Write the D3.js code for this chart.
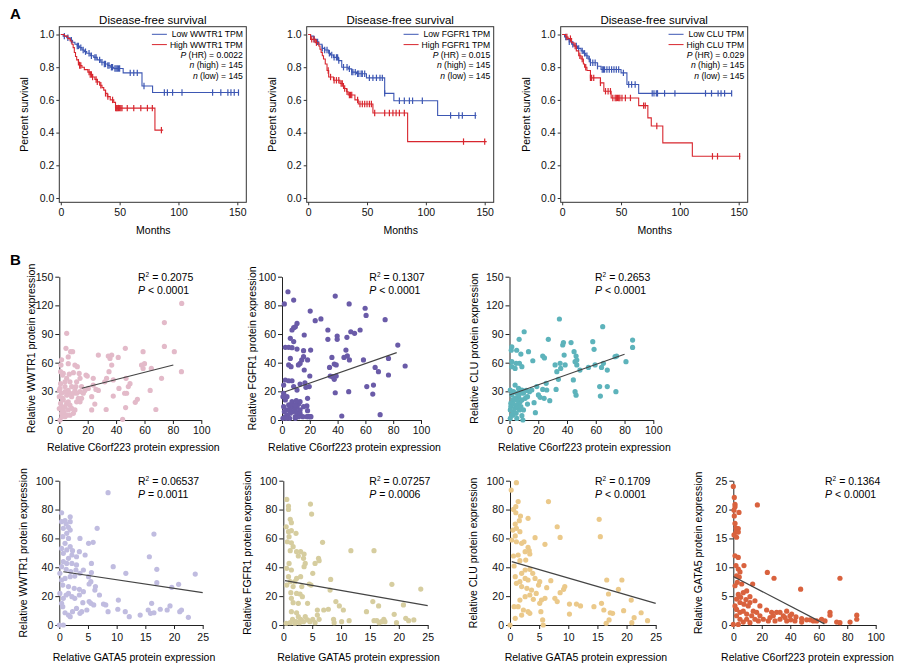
<!DOCTYPE html>
<html>
<head>
<meta charset="utf-8">
<script src="https://cdn.jsdelivr.net/npm/d3@7"></script>
<style>
  body { margin: 0; background: #fff; }
  svg { font-family: "Liberation Sans", Arial, sans-serif; }
</style>
</head>
<body>
<svg id="fig" width="900" height="671"></svg>
<script>
// ---- survival curves: [month, survival] step points (last point = end of follow-up)
const wwtr1Low = [[0,1],[2,0.99],[5,0.98],[8,0.965],[10,0.953],[12,0.94],[14,0.93],[16,0.92],[18,0.905],[20,0.895],[22,0.885],[25,0.87],[28,0.86],[31,0.845],[34,0.83],[37,0.82],[40,0.81],[42,0.8],[45,0.792],[53,0.765],[69,0.685],[78,0.645],[151.5,0.645]];
const wwtr1High = [[0,1],[3,0.99],[6,0.975],[8,0.96],[9.5,0.94],[10.5,0.92],[11.5,0.89],[12.5,0.865],[13.5,0.845],[15,0.83],[16,0.81],[18,0.8],[20,0.785],[23,0.77],[25,0.755],[27,0.74],[29,0.725],[31,0.71],[33,0.69],[35,0.675],[36.5,0.66],[38,0.64],[39.5,0.62],[42,0.6],[45,0.585],[46.5,0.55],[80,0.415],[87,0.415]];
const wwtr1LowCens = [3,6,9,14,15,17,19,21,24,26,29,30,33,35,37,38,40,41,43,44,46,47,48,49,50,59,62,65,70.7,88,90.6,95,103,129,136,142,144.6,147.4,151];
const wwtr1HighCens = [15,16,17,24,25,26,27,30,31,34,38,40,44,46.6,47.5,48,49,50,51,52,56.5,62,68,73.6,77.8,85.5];

const fgfr1Low = [[0,1],[2,0.99],[4.8,0.97],[7,0.955],[9,0.94],[11.8,0.915],[14,0.905],[17.4,0.885],[19,0.875],[21.5,0.86],[25.7,0.84],[28.5,0.8],[34,0.79],[37,0.77],[41,0.76],[49.5,0.735],[65,0.64],[72.8,0.595],[110,0.505],[143,0.505]];
const fgfr1High = [[0,1],[2,0.97],[6,0.95],[9,0.93],[10,0.91],[11,0.89],[12,0.87],[13,0.85],[14.5,0.82],[16,0.78],[17.4,0.74],[21.5,0.72],[27,0.7],[30,0.67],[32.7,0.65],[34,0.63],[39.7,0.6],[42.5,0.575],[55,0.52],[84.5,0.345],[151.7,0.345]];
const fgfr1LowCens = [5,8,12,14,16,18,20,22,24,25,26,30,33,35,37,38,40,42,43,45,46,48,52,55,58,61,63,65,77.5,81.7,86,88.7,97,121,128,131,142];
const fgfr1HighCens = [3,5,7,17,19,22,24,26,28,29,31,33,35,36,37,42,44,46,48,50,52,53.7,56.5,65,69,72,74.7,77.5,81.7,132,150];

const cluLow = [[0,1],[2,0.985],[4,0.97],[6,0.955],[8,0.94],[10,0.93],[13,0.915],[16,0.9],[18,0.885],[20,0.87],[22,0.85],[24,0.827],[30,0.806],[33,0.786],[50,0.765],[55,0.694],[65,0.64],[144,0.64]];
const cluHigh = [[0,1],[3,0.985],[5,0.975],[8,0.95],[10,0.93],[12,0.9],[14,0.87],[16,0.85],[18,0.82],[19,0.8],[21,0.78],[24,0.735],[32.5,0.704],[35.4,0.653],[41.6,0.612],[65,0.565],[72.8,0.49],[75.7,0.44],[85.5,0.337],[110.6,0.255],[151.4,0.255]];
const cluLowCens = [3,6,9,12,14,17,19,21,23,24,26,28,30,34,35,36,38,40,42,44,46,48,52,56.5,59,62,76.5,78,80,81,87,95.8,121.8,126.9,132.5,135,138,144];
const cluHighCens = [4,7,11,15,17,20,24,25,26.8,32.5,36.8,39,41,43,45,46,47,48,49,50.8,53.7,58,69.2,70.6,80.4,127.7,132,150.8];

const kmGenes = ["WWTR1", "FGFR1", "CLU"];
const kmPvals = ["0.0022", "0.015", "0.029"];
const kmTicksY = [0, 0.2, 0.4, 0.6, 0.8, 1.0];
const kmTicksX = [0, 50, 100, 150];

// ---- scatter points [x, y]
const c6Wwtr1 = [[86.2,122],[74,102],[74,77],[81,71.5],[86,50.6],[72,43.6],[68,11],[64,31],[64.8,54],[60,59],[59,71.5],[57.9,57.5],[59,54],[55,21.6],[53.5,18.5],[49.8,38],[48.6,35],[47.4,28],[46,28],[46.5,75],[47,43.6],[46.7,13],[41.5,65.5],[42,33],[44.6,0.7],[38,25],[38,42],[36.9,57.5],[36.9,68],[35.7,64.5],[34.5,67],[35,50.6],[33.3,43.6],[32,40],[33,11],[27.5,68],[27.5,31],[25.8,32],[23.9,36.6],[23.9,43.6],[25,16.7],[22.8,10.5],[22.8,24.4],[20.4,33],[18.8,47],[19.7,46],[15.7,35],[15.7,22.7],[14,48.8],[12.7,55.8],[12.2,40],[11.7,35],[9.9,49.5],[9.4,71.5],[8,71.5],[6.3,66],[6.3,59],[4.7,75],[5.2,90.7],[1.6,63],[1.2,57.5],[2.8,48.8],[0.5,0],[1.6,7],[2.8,10.5],[4,14],[5.2,17.4],[6.3,19],[7.5,15.7],[8.7,12.2],[9.9,7],[5.2,5],[2.8,21],[1.6,28],[0.5,33],[0.9,38],[4,35],[6.3,31],[7.5,28],[8.7,24.4],[9.9,28],[11,31],[12.2,28],[14.6,29.6],[13.4,22.7],[5.2,26],[4,29.6],[2.3,22.7],[0.9,17.4],[1.6,14],[3.3,7.7],[6.3,10.5],[7.5,5],[4,3.5],[1.9,3.5],[0,12],[0,24.4],[0,31],[5.2,43.6],[4,40],[7.5,40],[8.7,35],[2.3,47],[0.9,50.6],[12.2,19],[11,10.5],[14.6,19],[16.9,28],[18,31],[7,48],[11,57.5],[14.6,43.6]];
const c6Fgfr1 = [[4.3,89.5],[8.4,83.7],[1.7,81],[38.3,86.5],[48.3,81],[59.8,78],[60.5,73],[74.2,70],[20.3,76],[23.9,69.3],[28,70.5],[10.8,67.4],[8.4,64.4],[7.2,62.8],[9.6,65],[6,57],[8.4,54.7],[4.8,50.7],[2.4,50.7],[7.2,50.5],[10.8,49.5],[16,59.3],[15.5,48.4],[20.6,48.8],[33,62.8],[33,56.3],[39.7,58.6],[39.7,56.3],[46.7,57.7],[49.5,61.6],[52.2,60.5],[56.2,62.8],[46,48.8],[47,44.7],[48.5,41.9],[44.6,43.7],[35.9,43.7],[37.6,39],[39,38.4],[34.2,36.7],[34.7,30.7],[36.3,30.2],[37.6,28.4],[39,30.7],[38.3,19],[48,19.8],[58.6,41.9],[61,23.3],[65.8,24.4],[65.3,18.1],[67,36.7],[69.4,33.7],[76.6,31.4],[76.6,43],[83.3,52.3],[88.6,37.7],[70.6,3.7],[43,2.8],[20.8,2.3],[19.1,2.3],[19.6,23.3],[20,30.7],[18.4,41.9],[16,34.9],[17.2,22.8],[14.2,41.9],[13,39.5],[11.8,38.4],[15.5,44.2],[6,43],[4.8,38.4],[6.5,37.2],[1.2,24.4],[2.4,27.9],[4.8,27.4],[7.2,27.4],[8.4,23.3],[10.8,20.9],[13,25.1],[16.5,26],[18.4,15.1],[17.9,9.8],[18.4,6.5],[15,2.3],[17.9,2.3],[20.3,2.3],[12,2.3],[9.6,2.3],[0.7,1.2],[2.4,2.3],[4,3.5],[6,4.7],[7.9,5.8],[9.6,7.4],[10.8,9.3],[12,11.2],[13,12.8],[8.4,9.3],[6,8.1],[3.6,7],[1.7,5.8],[4.8,10.5],[7.2,12.8],[2.4,14],[3.6,16.3],[1.2,9.3],[0.7,16.3],[1.2,18.6],[5.5,1.2],[9.6,1.2],[7.2,11.6],[9.6,10.5],[10.8,5.1],[3.1,1.2],[13,7],[15.5,9.3],[13,4.7],[10.3,13.5]];
const c6Clu = [[34.7,105.7],[64.8,97.7],[85.6,83.7],[85.6,76],[57.9,82],[58.8,74],[42.8,81],[37,78.5],[37.5,81],[27,84.4],[10.2,92.4],[6.7,84.4],[1.6,76.7],[1.2,73],[5,73],[7.9,69],[13.2,71.5],[16.2,62],[23.1,67],[24.3,65],[38,68],[38.7,57.6],[35.2,59.3],[35.6,54],[31.7,57.6],[32.9,50.6],[44.9,71.5],[46.3,67],[46.8,62.8],[45.6,61],[46.8,57.6],[49,52.3],[54.9,55],[59.5,57.6],[64,55],[65.3,59.3],[68,52.3],[73.4,66.3],[74.5,67],[81,61],[62.7,35],[63.2,25],[68,35],[74,29.6],[45.6,29.6],[46.3,26],[44.4,41.9],[34,42.6],[32.4,32],[25.5,38.4],[25.9,31.4],[23.1,32],[24.1,22.7],[21.3,23.7],[28,20.2],[20.1,26.2],[19,35],[15.5,31.4],[13.9,29.6],[18,7.7],[17.1,18.1],[12.5,24.4],[10.9,22.7],[12.5,16.7],[9.7,10.5],[8.6,4.5],[9.3,0],[5.1,1.7],[0.5,1.7],[1.6,5.2],[2.8,8.7],[3.9,12.2],[5.1,14],[6.3,17.4],[7.4,19.2],[8.6,21],[6.3,24.4],[3.9,22.7],[2.3,21],[0.9,17.4],[0.9,14],[0.5,10.5],[1.6,26.2],[2.8,29.6],[0.5,31.4],[3.9,36.6],[6.3,33],[8.6,31.4],[9.7,28],[7.4,28],[5.1,28],[2.3,5],[4.6,7],[6.9,10.5],[7.9,14],[2.8,16.7],[5.1,21],[11.6,31],[1.6,61],[4.6,59.3],[6.9,59.3],[8.6,55.8],[1.6,55.8],[3.9,54]];
const gataWwtr1 = [[8.5,91.7],[16.5,63],[15.7,47.3],[17,38.6],[17,29.3],[23.7,35.3],[20.8,28.2],[19.6,26.1],[6.6,67],[5.9,57.3],[5.1,56.6],[4.5,48.5],[3.5,50.8],[2.3,51.5],[5.6,42.7],[5.6,36.3],[5.1,33.5],[5.5,30],[5.2,28.4],[6.3,26.6],[6.2,24.2],[7,20.8],[7.7,14.5],[8.1,13.9],[8.5,9.2],[9.4,40.4],[10.3,17.3],[10.2,10.9],[11.5,9.2],[11.6,35.8],[12.2,5.8],[14.1,6.9],[15.5,10.4],[15.9,8.1],[16.5,8.5],[16.1,15],[17.6,10.9],[18.8,10.4],[19.3,13.2],[21,9.2],[21.3,10.4],[22.5,5.3],[0,0],[0.7,0],[4.1,15.5],[5.2,16.2],[5.5,15],[6,13.9],[4.8,10.4],[3.9,9.2],[3.6,8.1],[3,11.5],[2.3,9.2],[1.9,5.8],[1.6,6.9],[1,8.5],[0.6,12.7],[0.4,15],[0.7,18.5],[1.2,20.8],[1.6,21.9],[2.2,19.6],[2.7,18.5],[3.5,20.8],[4.2,23.1],[3.5,24.7],[2.6,25.4],[1.6,26.6],[0.6,27.7],[0.4,31.2],[1,32.3],[1.9,33.5],[2.7,33.9],[3.6,35.8],[4.2,38.1],[2.9,38.1],[2,37],[1.2,38.6],[0.4,40.4],[0.7,43.9],[1.3,42.7],[2.2,42.7],[3,41.6],[1.6,46.2],[2.2,48.5],[0.7,49.7],[1.3,52],[0.4,53.1],[1.9,54.3],[1,56.6],[1.6,60],[0.6,61.2],[1.3,63.5],[1.9,65.8],[0.7,67],[1.2,70],[0.4,71.6],[1,72.3],[1.9,71.6],[1.6,67.7],[1.9,75],[0.4,77.8],[3,47.3],[3.6,60],[0.1,21.9],[0.1,35.8]];
const gataFgfr1 = [[0.6,87],[0.9,82.4],[0.9,80.1],[4.7,83.8],[4.9,76.9],[0.5,68.1],[1.2,73.2],[1.4,70.9],[0.9,64.7],[1.4,65.4],[2.2,63.5],[1,61.2],[0.7,57.7],[1.4,57],[1.7,54.3],[1.2,51.5],[2.3,50.8],[3,50.8],[3.6,49.2],[2.6,47.8],[3.5,46.2],[6.8,57.3],[6.1,46.2],[6.2,44.6],[5.5,42.7],[5.1,35.8],[3.6,40.4],[3,33.5],[2.3,32.3],[2,30],[8.2,31.6],[8.1,24.2],[4.8,27.7],[4.5,28.4],[1,42.7],[0.6,39.3],[1.4,38.1],[0.9,33.5],[1.2,30],[0.6,27.7],[1.7,26.6],[1.3,22.4],[2.3,21.9],[2.9,21.5],[3.3,19.6],[1.4,18.5],[1.7,15.5],[4.2,15],[5.9,10.4],[5.9,6.9],[7,10.4],[7.8,10.9],[9.1,16.2],[9.7,13.2],[10.4,10.4],[11.7,51.5],[11.4,3],[10.1,2.3],[8.7,3.9],[8.8,1.6],[6.2,3.9],[5.5,1.6],[4.6,2.3],[3.8,5.8],[3.5,2.3],[3,3.9],[2.6,5.8],[2.2,2.3],[1.6,3.9],[1.2,1.6],[0.5,1.2],[2,1.2],[2.8,1.6],[4.2,3.5],[5.1,3.9],[14.4,9.2],[15.5,16.2],[15.7,51.5],[16.5,13.2],[15.7,3],[16.2,3],[17,2.3],[17.4,3.9],[17.6,2.3],[16.6,1.6],[18.8,28.2],[19.2,7.4],[19.6,1.6],[20.8,13.9],[21.2,4.6],[21.7,3],[22.6,3.5],[23.8,24.9],[3.8,42.7],[3.2,26.6],[2.6,15],[1.4,9.2],[2.3,8.5]];
const gataClu = [[1.1,98.6],[0.2,93.5],[1.4,85.5],[1,82],[0.6,80.1],[1,77.8],[1.8,75.5],[1.6,72.3],[0.9,70],[1.1,67],[0.5,65.8],[1.7,64.7],[0.9,61.7],[0.3,58.9],[1.1,57.7],[2,56.6],[2.4,57.7],[3.1,53.8],[3.3,51.5],[2.6,50.8],[1.4,48.5],[0.6,47.8],[1.7,44.6],[3.4,49.2],[2.7,45],[0.7,40.9],[3.1,73.9],[4.3,60.5],[6,55.9],[6.6,85.5],[8.1,68.1],[8.6,60.7],[15.3,73.2],[15.5,61.2],[16.6,31.2],[16.9,21.5],[16.5,1.2],[17,3.5],[17.2,8.5],[17.6,8.1],[18.6,24.7],[19.2,31.2],[19.5,9.9],[20.8,17.3],[20.9,1.6],[21.3,5.1],[22.5,8.5],[23.6,3],[15.7,15],[16.1,10.4],[14.4,12.7],[12.1,13.2],[11.4,14.5],[10.2,14.5],[10.2,7.6],[9.4,26.6],[9.2,24.7],[8.6,22.4],[7.7,18.5],[8.1,16.2],[7,30.7],[6.3,25.9],[6,18.5],[5.4,17.3],[5.1,15],[5.3,9.2],[5.6,3.5],[5.7,0],[4.9,27.7],[5.1,30],[4.3,32.3],[3.9,35.8],[3.4,38.6],[2.6,38.1],[2,35.8],[2.6,32.3],[3.1,31.2],[1.7,30],[1.1,28.9],[0.9,33.5],[2,26.6],[2.9,25.4],[3.7,24.2],[4.5,21.9],[3.4,20.8],[2.6,19.6],[1.7,17.3],[0.7,12.7],[1.4,12.7],[2.3,10.4],[3.1,9.2],[3.4,8.1],[2,6.9],[0.9,4.6],[0,0],[4,17.8]];
const c6Gata5 = [[0,24],[0.7,22.1],[1.2,20.9],[1.2,20.5],[16.9,20.8],[0.5,19.9],[4,19.5],[0.7,18.9],[1.2,17.6],[1.9,16.8],[3.5,16.7],[1.9,16.1],[0.5,15.6],[3.5,16.1],[2.3,15.2],[1.2,12],[3.5,11.7],[1.9,10.3],[7.5,10.3],[3.5,9.7],[4.7,9.2],[2.3,8.5],[4.2,8.3],[23.9,9.1],[28.6,8.1],[74.9,8.1],[47.3,6.2],[13.6,7.1],[9.4,5.9],[7,5.6],[3.5,5.3],[5.2,4.8],[2.3,4.5],[8.9,4.4],[11.7,4.9],[15.2,4.2],[11.7,3.9],[18.7,3.3],[23.4,2.6],[26.9,2.2],[30.4,2.2],[32.8,2.2],[36.3,1.3],[39.8,1.6],[44,1.4],[48,1.1],[51.5,0.9],[58.5,0.7],[62,1],[67.9,2.2],[67.9,1.7],[72.6,0.5],[74.9,0.4],[82,0.5],[86.7,1.7],[86.7,1],[1.2,3.3],[2.3,2.7],[4.7,2.2],[7,2.4],[9.4,1.9],[12.9,1.6],[15.2,1],[17.6,0.7],[21.1,1],[24.6,0.7],[25.8,1.3],[29.3,0.7],[32.8,1],[37.5,0.7],[40.3,0.9],[43.3,0.7],[48,0.5],[53.9,0.9],[56.2,0.7],[64.4,0.7],[2.3,1.6],[4.7,1],[7,0.5],[9.4,1],[11.7,0.4],[0,0.1],[3.5,0.1],[14,2.4],[10.5,3.3],[7.5,3.6],[4.7,3.9],[16.4,2.2],[18.7,1.6],[35.1,1.6],[37.5,2.4],[41,1.9],[28.1,1.6],[1.2,6.8],[2.8,7.4],[5.9,7.1]];

// regression line end points [[x0,y0],[x1,y1]]
const fitC6Wwtr1 = [[15.8,33.2],[80.3,57.6]];
const fitC6Fgfr1 = [[2.2,19.7],[82.5,47]];
const fitC6Clu = [[0,26.2],[80,68.8]];
const fitGataWwtr1 = [[0.7,36.9],[25,22.4]];
const fitGataFgfr1 = [[0.3,30.7],[25,13.4]];
const fitGataClu = [[0.3,43.9],[25,15]];
const fitC6Gata5 = [[0,8.4],[64,0.2]];

const r2Text = ["0.2075", "0.1307", "0.2653", "0.06537", "0.07257", "0.1709", "0.1364"];
const pText = ["< 0.0001", "< 0.0001", "< 0.0001", "= 0.0011", "= 0.0006", "< 0.0001", "< 0.0001"];

const svg = d3.select("#fig");
const lowBlue = "#3d57b3", highRed = "#d8262e";

svg.append("text").attr("x", 10).attr("y", 18.5).attr("font-size", 15).attr("font-weight", "bold").text("A");
svg.append("text").attr("x", 10).attr("y", 265).attr("font-size", 15).attr("font-weight", "bold").text("B");

function survAt(curve, t) {
  let s = curve[0][1];
  curve.forEach(d => { if (d[0] <= t) s = d[1]; });
  return s;
}

function drawKM(left, gene, pval, low, high, lowCens, highCens) {
  const top = 26.7, bottom = 202.3, w = 187;
  const x = d3.scaleLinear().domain([0, 150]).range([left + 1.5, left + 178]);
  const y = d3.scaleLinear().domain([0, 1]).range([198, 34.5]);
  const g = svg.append("g");

  g.append("text").attr("x", left + w / 2).attr("y", top - 3).attr("text-anchor", "middle")
    .attr("font-size", 11.5).text("Disease-free survival");

  const ya = g.append("g").attr("transform", `translate(${left},0)`)
    .call(d3.axisLeft(y).tickValues(kmTicksY).tickFormat(d3.format(".1f")).tickSize(3).tickPadding(2));
  const xa = g.append("g").attr("transform", `translate(0,${bottom})`)
    .call(d3.axisBottom(x).tickValues(kmTicksX).tickSize(3).tickPadding(3));
  [ya, xa].forEach(a => {
    a.select(".domain").remove();
    a.selectAll("text").attr("font-size", 10.5).attr("fill", "#111");
    a.selectAll("line").attr("stroke", "#333");
  });

  g.append("rect").attr("x", left).attr("y", top).attr("width", w).attr("height", bottom - top)
    .attr("fill", "none").attr("stroke", "#333").attr("stroke-width", 1);

  g.append("text").attr("transform", `translate(${left - 31},${(top + bottom) / 2}) rotate(-90)`)
    .attr("text-anchor", "middle").attr("font-size", 10.5).text("Percent survival");
  g.append("text").attr("x", left + 94).attr("y", 234).attr("text-anchor", "middle")
    .attr("font-size", 10.5).text("Months");

  const line = d3.line().x(d => x(d[0])).y(d => y(d[1])).curve(d3.curveStepAfter);
  [[low, lowCens, lowBlue], [high, highCens, highRed]].forEach(([c, cens, col]) => {
    g.append("path").datum(c).attr("d", line).attr("fill", "none").attr("stroke", col).attr("stroke-width", 1.1);
    g.selectAll(null).data(cens).join("line")
      .attr("x1", t => x(t)).attr("x2", t => x(t))
      .attr("y1", t => y(survAt(c, t)) - 3.2).attr("y2", t => y(survAt(c, t)) + 3.2)
      .attr("stroke", col).attr("stroke-width", 1.2);
  });

  // legend block, right aligned inside the box
  const rx = left + w - 3.5;
  const rows = [`Low ${gene} TPM`, `High ${gene} TPM`, null, "n (high) = 145", "n (low) = 145"];
  const lg = g.append("g").attr("font-size", 8.6);
  const ys = [37.3, 47.6, 57.9, 68.2, 78.5];
  const texts = [];
  rows.forEach((r, i) => {
    const t = lg.append("text").attr("x", rx).attr("y", ys[i]).attr("text-anchor", "end");
    if (i === 2) {
      t.append("tspan").attr("font-style", "italic").text("P");
      t.append("tspan").text(` (HR) = ${pval}`);
    } else if (i >= 3) {
      t.append("tspan").attr("font-style", "italic").text("n");
      t.append("tspan").text(r.slice(1));
    } else t.text(r);
    texts.push(t);
  });
  const longest = Math.max(texts[0].node().getComputedTextLength(), texts[1].node().getComputedTextLength());
  const lx1 = rx - longest - 3;
  [lowBlue, highRed].forEach((col, i) => {
    lg.append("line").attr("x1", lx1 - 15).attr("x2", lx1).attr("y1", ys[i] - 3).attr("y2", ys[i] - 3)
      .attr("stroke", col).attr("stroke-width", 1);
  });
}

drawKM(59.3, kmGenes[0], kmPvals[0], wwtr1Low, wwtr1High, wwtr1LowCens, wwtr1HighCens);
drawKM(306.7, kmGenes[1], kmPvals[1], fgfr1Low, fgfr1High, fgfr1LowCens, fgfr1HighCens);
drawKM(560.7, kmGenes[2], kmPvals[2], cluLow, cluHigh, cluLowCens, cluHighCens);

function drawScatter(o) {
  const x = d3.scaleLinear().domain([0, o.xMax]).range(o.xr);
  const y = d3.scaleLinear().domain([0, o.yMax]).range(o.yr);
  const g = svg.append("g");

  const xa = g.append("g").attr("transform", `translate(0,${o.yr[0]})`)
    .call(d3.axisBottom(x).ticks(5).tickSize(4).tickSizeOuter(0).tickPadding(o.padX));
  const ya = g.append("g").attr("transform", `translate(${o.xr[0]},0)`)
    .call(d3.axisLeft(y).tickValues(d3.range(0, o.yMax + 1, o.yStep)).tickSize(4).tickSizeOuter(0).tickPadding(2));
  [xa, ya].forEach(a => {
    a.selectAll("text").attr("font-size", 10.5).attr("fill", "#111");
    a.selectAll("line,path").attr("stroke", "#222").attr("stroke-width", 1);
  });

  g.selectAll("circle").data(o.pts).join("circle")
    .attr("cx", d => x(d[0])).attr("cy", d => y(d[1])).attr("r", 2.6).attr("fill", o.color);

  g.append("line").attr("x1", x(o.fit[0][0])).attr("y1", y(o.fit[0][1]))
    .attr("x2", x(o.fit[1][0])).attr("y2", y(o.fit[1][1]))
    .attr("stroke", "#444").attr("stroke-width", 1.2);

  const st = g.append("g").attr("font-size", 10.5);
  const t1 = st.append("text").attr("x", o.sx).attr("y", o.yr[1] + 4);
  t1.append("tspan").text("R");
  t1.append("tspan").attr("font-size", 6.5).attr("dy", -4).text("2");
  t1.append("tspan").attr("dy", 4).text(` = ${o.r2}`);
  const t2 = st.append("text").attr("x", o.sx).attr("y", o.yr[1] + 17.5);
  t2.append("tspan").attr("font-style", "italic").text("P");
  t2.append("tspan").text(` ${o.p}`);

  g.append("text").attr("x", (o.xr[0] + o.xr[1]) / 2 + 3).attr("y", o.yr[0] + o.labX)
    .attr("text-anchor", "middle").attr("font-size", 10.5).text(o.xLabel);
  g.append("text").attr("transform", `translate(${o.xr[0] - o.labY},${(o.yr[0] + o.yr[1]) / 2}) rotate(-90)`)
    .attr("text-anchor", "middle").attr("dominant-baseline", "central").attr("font-size", 10.5).text(o.yLabel);
}

const xC6 = "Relative C6orf223 protein expression";
const xGata = "Relative GATA5 protein expression";
const row1 = [420, 276.7], row2 = [625, 480.7];

drawScatter({pts: c6Wwtr1, fit: fitC6Wwtr1, color: "#e3bac9", xr: [59.3, 201.3], yr: row1, xMax: 100, yMax: 150, yStep: 30,
  r2: r2Text[0], p: pText[0], sx: 138, xLabel: xC6, yLabel: "Relative WWTR1 protein expression", padX: 3, labX: 30.5, labY: 28});
drawScatter({pts: c6Fgfr1, fit: fitC6Fgfr1, color: "#6a5ba8", xr: [282, 421], yr: row1, xMax: 100, yMax: 100, yStep: 20,
  r2: r2Text[1], p: pText[1], sx: 369.3, xLabel: xC6, yLabel: "Relative FGFR1 protein expression", padX: 3, labX: 30.5, labY: 30});
drawScatter({pts: c6Clu, fit: fitC6Clu, color: "#5db3bb", xr: [509.5, 653.3], yr: row1, xMax: 100, yMax: 150, yStep: 30,
  r2: r2Text[2], p: pText[2], sx: 595, xLabel: xC6, yLabel: "Relative CLU protein expression", padX: 3, labX: 30.5, labY: 36});
drawScatter({pts: gataWwtr1, fit: fitGataWwtr1, color: "#c0bce0", xr: [59.3, 202.7], yr: row2, xMax: 25, yMax: 100, yStep: 20,
  r2: r2Text[3], p: pText[3], sx: 138, xLabel: xGata, yLabel: "Relative WWTR1 protein expression", padX: 5, labX: 35.5, labY: 36});
drawScatter({pts: gataFgfr1, fit: fitGataFgfr1, color: "#d6cd9f", xr: [283.3, 427.7], yr: row2, xMax: 25, yMax: 100, yStep: 20,
  r2: r2Text[4], p: pText[4], sx: 369.3, xLabel: xGata, yLabel: "Relative FGFR1 protein expression", padX: 5, labX: 35.5, labY: 36});
drawScatter({pts: gataClu, fit: fitGataClu, color: "#ebc98a", xr: [510, 655.7], yr: row2, xMax: 25, yMax: 100, yStep: 20,
  r2: r2Text[5], p: pText[5], sx: 595, xLabel: xGata, yLabel: "Relative CLU protein expression", padX: 5, labX: 35.5, labY: 37});
drawScatter({pts: c6Gata5, fit: fitC6Gata5, color: "#d9623e", xr: [733.3, 875.7], yr: row2, xMax: 100, yMax: 25, yStep: 5,
  r2: r2Text[6], p: pText[6], sx: 825, xLabel: xC6, yLabel: "Relative GATA5 protein expression", padX: 5, labX: 35.5, labY: 35});
</script>
</body>
</html>
